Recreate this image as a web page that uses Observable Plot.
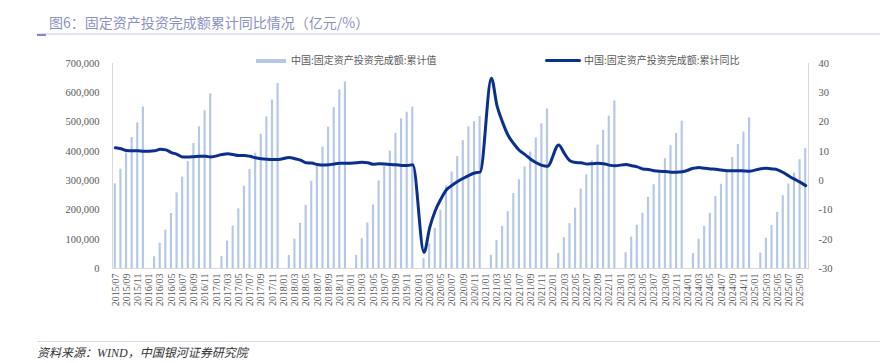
<!DOCTYPE html>
<html><head><meta charset="utf-8">
<script src="https://cdn.jsdelivr.net/npm/d3@7"></script>
<script src="https://cdn.jsdelivr.net/npm/@observablehq/plot@0.6"></script>
<style>
body{margin:0;background:#fff;}
#wrap{position:relative;width:880px;height:363px;overflow:hidden;font-family:"Noto Sans CJK SC",sans-serif;background:#fff;}
#title{position:absolute;left:49px;top:12px;font-size:14px;color:#8a90c4;white-space:nowrap;line-height:20px;}
#tline{position:absolute;left:37px;top:33px;width:843px;height:2px;background:#e2e2f0;}
#tmark{position:absolute;left:37px;top:34px;width:9px;height:2px;background:#8a86c8;}
#chart{position:absolute;left:0;top:40px;}
#fline{position:absolute;left:37px;top:341px;width:843px;height:1px;background:#d8d8ec;}
#source{position:absolute;left:37px;top:345px;font-size:12px;font-style:italic;color:#333;font-family:"Liberation Serif","Noto Sans CJK SC",serif;white-space:nowrap;line-height:16px;}
.leg{position:absolute;top:53px;font-size:10px;color:#595959;white-space:nowrap;line-height:14px;}
.sw{position:absolute;}
</style></head><body>
<div id="wrap">
  <div id="title">图6：固定资产投资完成额累计同比情况（亿元/%）</div>
  <div id="tline"></div><div id="tmark"></div>
  <div id="chart"></div>
  <div class="sw" style="left:256px;top:59px;width:30px;height:4px;background:#b4c7e7;"></div>
  <div class="leg" style="left:291px;">中国:固定资产投资完成额:累计值</div>
  <div class="sw" style="left:545px;top:59px;width:36px;height:3px;background:#0b2f8e;border-radius:2px;"></div>
  <div class="leg" style="left:584px;">中国:固定资产投资完成额:累计同比</div>
  <div id="fline"></div>
  <div id="source">资料来源：WIND，中国银河证券研究院</div>
</div>
<script>
// Month categories 2015/07 .. 2025/10
const months = [];
for (let y = 2015; y <= 2025; y++) {
  for (let m = 1; m <= 12; m++) {
    if (y === 2015 && m < 7) continue;
    if (y === 2025 && m > 10) continue;
    months.push(y + "/" + String(m).padStart(2, "0"));
  }
}
// 累计值 (亿元), January not published
const cumValue = [
  289000, 339000, 394500, 447400, 497400, 551600,
  null, 40000, 85800, 131100, 187700, 258400, 312000, 365000, 426900, 483800, 539000, 596500,
  null, 41400, 93800, 144900, 203700, 280600, 337800, 393100, 458500, 517800, 575100, 631700,
  null, 44900, 100000, 154500, 215500, 297900, 348000, 414000, 483000, 549500, 610000, 637000,
  null, 44800, 101900, 155700, 217200, 299100, 349100, 400600, 461200, 510900, 533700, 551500,
  null, 33300, 84100, 136800, 199200, 281600, 329200, 382000, 436500, 483700, 501000, 518900,
  null, 45200, 96000, 143800, 193900, 255900, 302800, 346900, 397800, 445800, 494100, 544500,
  null, 50800, 104900, 153500, 206000, 271400, 319800, 367100, 421400, 471500, 520000, 572100,
  null, 53600, 107300, 147500, 188800, 243100, 285900, 327000, 375000, 419400, 460800, 503000,
  null, 50800, 100000, 143400, 188000, 245400, 287600, 329400, 379000, 423200, 465800, 514400,
  null, 52600, 103200, 147000, 191900, 248700, 288200, 326100, 371500, 408900
];
// 累计同比 (%)
const cumYoY = [
  11.2, 10.9, 10.3, 10.2, 10.2, 10.0,
  null, 10.2, 10.7, 10.5, 9.6, 9.0, 8.1, 8.1, 8.2, 8.3, 8.3, 8.1,
  null, 8.9, 9.2, 8.9, 8.6, 8.6, 8.3, 7.8, 7.5, 7.3, 7.2, 7.2,
  null, 7.9, 7.5, 7.0, 6.1, 6.0, 5.5, 5.3, 5.4, 5.7, 5.9, 5.9,
  null, 6.1, 6.3, 6.1, 5.6, 5.8, 5.7, 5.5, 5.4, 5.2, 5.2, 5.4,
  null, -24.5, -16.1, -10.3, -6.3, -3.1, -1.6, -0.3, 0.8, 1.8, 2.6, 2.9,
  null, 35.0, 25.6, 19.9, 15.4, 12.6, 10.3, 8.9, 7.3, 6.1, 5.2, 4.9,
  null, 12.2, 9.3, 6.8, 6.2, 6.1, 5.7, 5.8, 5.9, 5.8, 5.3, 5.1,
  null, 5.5, 5.1, 4.7, 4.0, 3.8, 3.4, 3.2, 3.1, 2.9, 2.9, 3.0,
  null, 4.2, 4.5, 4.2, 4.0, 3.9, 3.6, 3.4, 3.4, 3.4, 3.3, 3.2,
  null, 4.1, 4.2, 4.0, 3.7, 2.8, 1.6, 0.5, -0.5, -1.7
];
const leftTicks = [0, 100000, 200000, 300000, 400000, 500000, 600000, 700000];
const rightTicks = [-30, -20, -10, 0, 10, 20, 30, 40];
const xTicks = months.filter((_, i) => i % 2 === 0);

// map right-axis (%) domain [-30,40] onto left domain [0,700000]
const toLeft = p => (p + 30) * 10000;
const fromLeft = v => Math.round(v / 10000 - 30);

const rows = months.map((m, i) => ({m, v: cumValue[i], p: cumYoY[i]}));

const chart = Plot.plot({
  width: 880, height: 280,
  marginLeft: 112, marginRight: 72, marginTop: 23, marginBottom: 52,
  style: {fontFamily: "'Liberation Serif', serif", fontSize: "10.5px", color: "#595959", background: "transparent"},
  x: {type: "band", domain: months, paddingInner: 0.62, paddingOuter: 0.31},
  y: {domain: [0, 700000]},
  marks: [
    Plot.barY(rows.filter(d => d.v != null), {x: "m", y: "v", fill: "#b4c7e7"}),
    Plot.ruleY([0], {stroke: "#d9d9d9"}),
    Plot.frame({anchor: "left", stroke: "#d9d9d9"}),
    Plot.frame({anchor: "right", stroke: "#d9d9d9"}),
    Plot.lineY(rows.filter(d => d.p != null), {x: "m", y: d => toLeft(d.p), stroke: "#0b2f8e", strokeWidth: 3, curve: "monotone-x"}),
    Plot.axisY({anchor: "left", ticks: leftTicks, tickFormat: d3.format(","), tickSize: 0, tickPadding: 13, label: null}),
    Plot.axisY({anchor: "right", ticks: rightTicks.map(toLeft), tickFormat: fromLeft, tickSize: 0, tickPadding: 10, label: null}),
    Plot.axisX({ticks: xTicks, tickRotate: -90, tickSize: 0, tickPadding: 5, label: null, fontSize: "10px"})
  ]
});
document.getElementById("chart").appendChild(chart);
</script>
</body></html>
